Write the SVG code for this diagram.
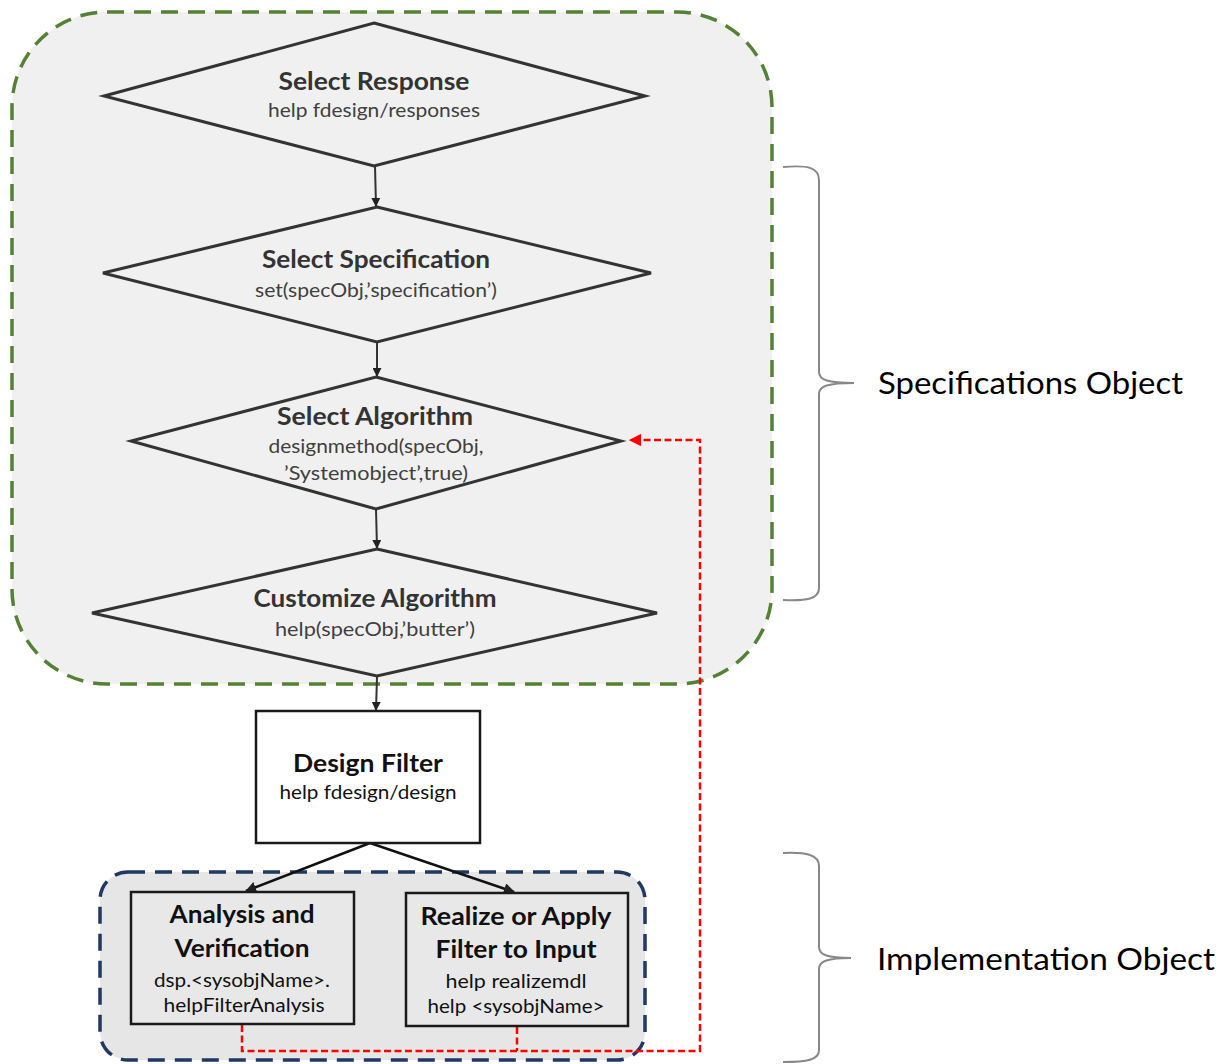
<svg xmlns="http://www.w3.org/2000/svg" width="1229" height="1064" viewBox="0 0 1229 1064">
<defs>
<marker id="ah" viewBox="0 0 10 10" refX="9" refY="5" markerWidth="4.5" markerHeight="4.5" orient="auto" markerUnits="strokeWidth">
<path d="M0,0 L10,5 L0,10 z" fill="#222"/>
</marker>
<marker id="ahr" viewBox="0 0 10 10" refX="9" refY="5" markerWidth="5" markerHeight="5" orient="auto" markerUnits="strokeWidth">
<path d="M0,0 L10,5 L0,10 z" fill="#ff0000"/>
</marker>
<style>
.dia{fill:#f0f0f0;stroke:#333;stroke-width:3}
.box{stroke:#1a1a1a;stroke-width:2.5}
.t{font-family:Lato,"Liberation Sans",sans-serif;font-weight:bold;font-size:24px;fill:#333;text-anchor:middle}
.s{font-family:Lato,"Liberation Sans",sans-serif;font-size:19px;fill:#404040;text-anchor:middle}
.tk{fill:#111}
.lbl{font-family:Lato,"Liberation Sans",sans-serif;font-size:30px;fill:#000}
.con{stroke:#333;stroke-width:2;fill:none;marker-end:url(#ah)}
.red{stroke:#ff0000;stroke-width:2.5;fill:none;stroke-dasharray:7 3.5}
.br{stroke:#888;stroke-width:2;fill:none}
</style>
</defs>
<rect width="1229" height="1064" fill="#fff"/>
<g id="spec-group">
<rect x="12" y="12" width="760" height="672" rx="95" fill="#f0f0f0" stroke="#548235" stroke-width="3.5" stroke-dasharray="17 10"/>
</g>
<g id="impl-group">
<rect x="100" y="872" width="545" height="188" rx="28" fill="#e6e6e6" stroke="#1f3864" stroke-width="3.5" stroke-dasharray="17 10"/>
</g>
<g id="connectors">
<line class="con" x1="375" y1="166" x2="376" y2="206"/>
<line class="con" x1="377" y1="342" x2="377" y2="376"/>
<line class="con" x1="376" y1="509" x2="377" y2="548"/>
<line class="con" x1="377" y1="677" x2="376" y2="710"/>
<line class="con" style="stroke:#111;stroke-width:2.5" x1="370" y1="843" x2="246" y2="891"/>
<line class="con" style="stroke:#111;stroke-width:2.5" x1="370" y1="843" x2="514" y2="892"/>
<path class="red" d="M242,1025 L242,1051 L700,1051 L700,440 L630,440" marker-end="url(#ahr)"/>
<path class="red" d="M517,1027 L517,1051"/>
</g>
<g id="select-response">
<polygon class="dia" points="374,23 645,96 374,166 104,96"/>
<text class="t" x="374" y="90" textLength="191" lengthAdjust="spacingAndGlyphs">Select Response</text>
<text class="s" x="374" y="117" textLength="212" lengthAdjust="spacingAndGlyphs">help fdesign/responses</text>
</g>
<g id="select-specification">
<polygon class="dia" points="377,207 651,273 377,342 103,273"/>
<text class="t" x="376" y="268" textLength="228" lengthAdjust="spacingAndGlyphs">Select Specification</text>
<text class="s" x="376" y="297" textLength="242" lengthAdjust="spacingAndGlyphs">set(specObj,’specification’)</text>
</g>
<g id="select-algorithm">
<polygon class="dia" points="376,377 621,441 376,509 131,441"/>
<text class="t" x="375" y="425" textLength="196" lengthAdjust="spacingAndGlyphs">Select Algorithm</text>
<text class="s" x="376" y="453" textLength="215" lengthAdjust="spacingAndGlyphs">designmethod(specObj,</text>
<text class="s" x="376" y="480" textLength="184" lengthAdjust="spacingAndGlyphs">’Systemobject’,true)</text>
</g>
<g id="customize-algorithm">
<polygon class="dia" points="377,549 657,613 377,676 92,613"/>
<text class="t" x="375" y="607" textLength="243" lengthAdjust="spacingAndGlyphs">Customize Algorithm</text>
<text class="s" x="375" y="636" textLength="200" lengthAdjust="spacingAndGlyphs">help(specObj,’butter’)</text>
</g>
<g id="design-filter">
<rect class="box" x="256" y="711" width="224" height="132" fill="#fff"/>
<text class="t tk" x="368" y="772" textLength="150" lengthAdjust="spacingAndGlyphs">Design Filter</text>
<text class="s tk" x="368" y="799" textLength="177" lengthAdjust="spacingAndGlyphs">help fdesign/design</text>
</g>
<g id="analysis">
<rect class="box" x="131" y="892" width="223" height="132" fill="#e8e8e8"/>
<text class="t tk" x="242" y="923" textLength="145" lengthAdjust="spacingAndGlyphs">Analysis and</text>
<text class="t tk" x="242" y="957" textLength="135" lengthAdjust="spacingAndGlyphs">Verification</text>
<text class="s tk" x="242" y="987" textLength="176" lengthAdjust="spacingAndGlyphs">dsp.&lt;sysobjName&gt;.</text>
<text class="s tk" x="244" y="1012" textLength="161" lengthAdjust="spacingAndGlyphs">helpFilterAnalysis</text>
</g>
<g id="realize">
<rect class="box" x="406" y="893" width="222" height="133" fill="#e8e8e8"/>
<text class="t tk" x="516" y="925" textLength="191" lengthAdjust="spacingAndGlyphs">Realize or Apply</text>
<text class="t tk" x="516" y="958" textLength="161" lengthAdjust="spacingAndGlyphs">Filter to Input</text>
<text class="s tk" x="516" y="988" textLength="141" lengthAdjust="spacingAndGlyphs">help realizemdl</text>
<text class="s tk" x="516" y="1013" textLength="177" lengthAdjust="spacingAndGlyphs">help &lt;sysobjName&gt;</text>
</g>
<g id="spec-bracket">
<path class="br" d="M783,167 C807,165 819,167 819,180 L819,372 C819,380 828,383 854,383 C828,383 819,386 819,394 L819,588 C819,599 807,601 783,600"/>
<text class="lbl" x="878" y="394" textLength="305" lengthAdjust="spacingAndGlyphs">Specifications Object</text>
</g>
<g id="impl-bracket">
<path class="br" d="M783,853 C807,852 819,855 819,866 L819,947 C819,955 828,958 851,958 C828,958 819,961 819,969 L819,1050 C819,1060 807,1062 783,1062"/>
<text class="lbl" x="877" y="970" textLength="338" lengthAdjust="spacingAndGlyphs">Implementation Object</text>
</g>
</svg>
